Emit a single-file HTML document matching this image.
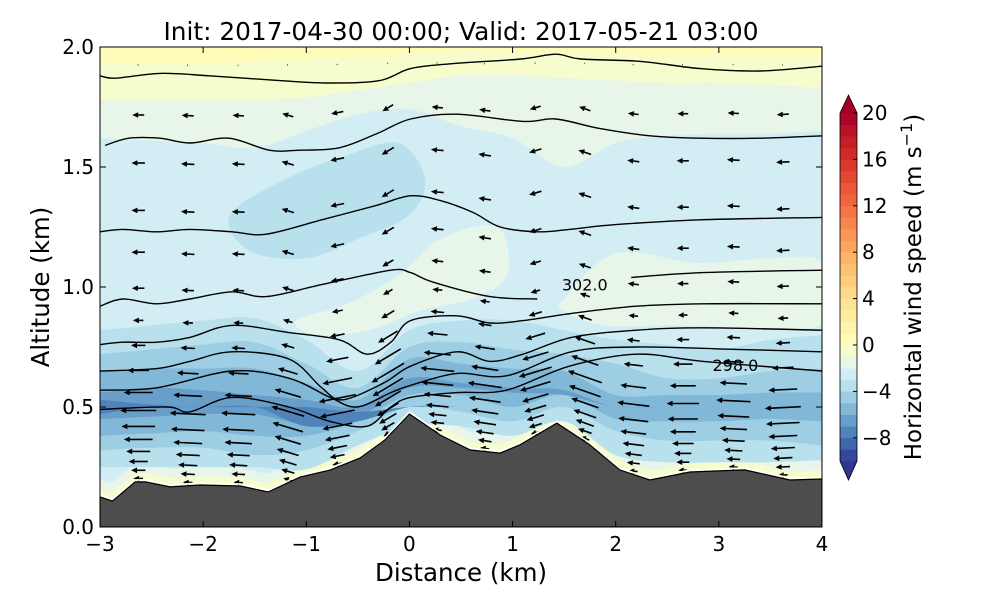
<!DOCTYPE html>
<html><head><meta charset="utf-8"><style>
body{margin:0;background:#fff;}
svg{display:block;font-family:"DejaVu Sans","Liberation Sans",sans-serif;}
</style></head><body>
<svg id="chart" width="1000" height="600" viewBox="0 0 1000 600" xmlns="http://www.w3.org/2000/svg">
<defs><clipPath id="plotclip"><rect x="100" y="47" width="722" height="480"/></clipPath></defs>
<rect width="1000" height="600" fill="#fff"/>
<text x="461" y="40" font-size="24.8" text-anchor="middle">Init: 2017-04-30 00:00; Valid: 2017-05-21 03:00</text>
<g id="plot" clip-path="url(#plotclip)"></g>
<g id="axes"></g>
<g id="cbar"></g>
</svg>
<script>
// ---------- data ----------
const terrainX = [-3.0,-2.88,-2.66,-2.56,-2.32,-2.03,-1.64,-1.37,-1.06,-0.77,-0.48,-0.24,0.0,0.30,0.59,0.88,1.07,1.43,1.75,2.04,2.33,2.72,3.25,3.69,4.0];
const terrainH = [0.125,0.108,0.188,0.188,0.167,0.175,0.171,0.146,0.208,0.237,0.287,0.362,0.471,0.383,0.321,0.308,0.342,0.433,0.342,0.238,0.196,0.229,0.238,0.196,0.2];
const bandX = [-3,-2.5,-2,-1.5,-1,-0.5,0,0.5,1,1.5,2,2.5,3,3.5,4];
const bandVals = [0.5,-0.5,-1.5,-3.5,-4.5,-5.5,-6.5,-7.5];
const bandTops = [
 [2.0,2.0,2.0,2.0,2.0,2.0,2.0,2.0,2.0,2.0,2.0,2.0,2.0,2.0,2.0],
 [1.93,1.93,1.93,1.94,1.95,1.96,1.97,1.98,1.98,1.98,1.97,1.96,1.96,1.96,1.97],
 [1.78,1.78,1.78,1.78,1.79,1.82,1.85,1.88,1.88,1.87,1.86,1.85,1.85,1.84,1.83],
 [0.82,0.84,0.86,0.87,0.78,0.65,0.82,0.86,0.86,0.82,0.78,0.76,0.74,0.78,0.80],
 [0.72,0.74,0.76,0.77,0.68,0.58,0.75,0.77,0.74,0.72,0.68,0.62,0.62,0.65,0.66],
 [0.65,0.66,0.66,0.66,0.60,0.53,0.70,0.68,0.66,0.65,0.55,0.55,0.55,0.56,0.56],
 [0.56,0.58,0.57,0.55,0.53,0.50,0.62,0.60,0.58,0.57,0.50,0.50,0.50,0.50,0.50],
 [0.53,0.51,0.50,0.50,0.50,0.48,0.50,0.50,0.50,0.50,0.50,0.50,0.50,0.50,0.50]];
const bandBots = [
 [1.93,1.93,1.93,1.94,1.95,1.96,1.97,1.98,1.98,1.98,1.97,1.96,1.96,1.96,1.97],
 [1.78,1.78,1.78,1.78,1.79,1.82,1.85,1.88,1.88,1.87,1.86,1.85,1.85,1.84,1.83],
 [1.62,1.61,1.60,1.58,1.65,1.72,1.74,1.67,1.62,1.50,1.60,1.63,1.64,1.64,1.65],
 [0.25,0.25,0.25,0.25,0.24,0.34,0.42,0.42,0.38,0.44,0.30,0.27,0.27,0.27,0.28],
 [0.32,0.33,0.33,0.30,0.32,0.40,0.50,0.48,0.44,0.50,0.40,0.36,0.36,0.36,0.34],
 [0.38,0.39,0.40,0.38,0.38,0.44,0.55,0.55,0.50,0.55,0.45,0.44,0.44,0.45,0.44],
 [0.45,0.46,0.47,0.47,0.43,0.46,0.58,0.58,0.56,0.55,0.50,0.50,0.50,0.50,0.50],
 [0.47,0.50,0.50,0.50,0.42,0.44,0.50,0.50,0.50,0.50,0.50,0.50,0.50,0.50,0.50]];
const blobVals = [-3.5,-1.5,-1.5];
const blobXs = [[-1.74,-1.2,-0.6,-0.1,0.15,0.0,-0.5,-1.0,-1.55],[-1.1,-0.6,-0.1,0.3,0.85,0.95,0.6,0.1,-0.4,-0.9],[1.5,2.0,2.8,3.5,4.0,4.0,3.4,2.6,1.9,1.5]];
const blobHs = [[1.3,1.45,1.55,1.6,1.45,1.3,1.2,1.12,1.15],[0.86,0.93,1.05,1.2,1.25,1.05,0.95,0.9,0.82,0.8],[0.95,1.14,1.1,1.12,1.1,0.85,0.83,0.84,0.84,0.9]];
const isoX = [
 [-3,-2.85,-2.42,-1.94,-1.26,-0.77,-0.29,0.01,0.40,1.08,1.42,1.66,2.24,2.82,3.40,4.0],
 [-2.95,-2.72,-2.42,-2.13,-1.75,-1.36,-1.07,-0.68,-0.31,0.01,0.46,1.10,1.42,1.85,2.33,2.82,3.40,4.0],
 [-3,-2.78,-2.45,-2.13,-1.72,-1.39,-0.85,-0.32,0.01,0.30,0.62,0.88,1.24,1.55,2.0,2.82,4.0],
 [-3,-2.78,-2.45,-2.13,-1.72,-1.39,-0.85,-0.18,0.01,0.23,0.78,1.24],
 [2.15,2.85,4.0],
 [-3,-2.78,-2.45,-2.13,-1.72,-1.17,-0.68,-0.41,-0.18,0.01,0.46,0.78,1.10,1.57,2.2,2.85,4.0],
 [-3,-2.45,-2.13,-1.72,-1.17,-0.85,-0.65,-0.25,0.01,0.46,0.78,1.10,1.57,2.2,2.85,4.0],
 [-3,-2.45,-1.72,-1.17,-0.77,-0.51,-0.18,0.01,0.46,0.94,1.57,2.2,3.17,4.0],
 [-3,-2.35,-2.13,-1.72,-1.17,-0.77,-0.41,-0.18,0.01,0.46,0.94,1.55,2.2,2.85,4.0]];
const isoH = [
 [1.88,1.87,1.89,1.88,1.86,1.85,1.86,1.91,1.93,1.95,1.97,1.95,1.94,1.91,1.90,1.92],
 [1.59,1.62,1.62,1.60,1.62,1.57,1.57,1.58,1.64,1.70,1.72,1.69,1.70,1.66,1.63,1.62,1.62,1.63],
 [1.23,1.24,1.23,1.24,1.23,1.22,1.28,1.34,1.38,1.36,1.31,1.25,1.23,1.24,1.26,1.28,1.29],
 [0.92,0.95,0.93,0.95,0.98,0.96,1.01,1.07,1.06,1.02,0.96,0.95],
 [1.04,1.06,1.07],
 [0.76,0.77,0.77,0.79,0.84,0.81,0.78,0.72,0.77,0.86,0.88,0.85,0.86,0.89,0.92,0.93,0.93],
 [0.65,0.66,0.69,0.73,0.70,0.58,0.53,0.60,0.67,0.73,0.69,0.72,0.79,0.82,0.83,0.82],
 [0.57,0.58,0.65,0.62,0.54,0.50,0.56,0.59,0.64,0.63,0.73,0.75,0.74,0.73],
 [0.49,0.50,0.48,0.54,0.50,0.44,0.42,0.50,0.54,0.56,0.57,0.67,0.72,0.69,0.65]];
const isoLabels = ["302.0","298.0"];
const isoLabelX = [1.70,3.16];
const isoLabelH = [1.01,0.675];
// wind vectors
const colX = [-2.63,-2.15,-1.66,-1.18,-0.70,-0.21,0.27,0.73,1.22,1.70,2.17,2.65,3.14,3.62];
const colTilt = [0.0,0.05,0.05,0.3,-0.2,-0.6,0.1,0.15,-0.3,0.35,0.12,0.0,0.05,-0.05];
const colScale = [1.0,1.0,0.95,0.95,1.05,1.05,0.95,0.95,0.95,1.0,0.9,0.9,0.95,1.0];
const levRef = [0.204,0.238,0.275,0.317,0.367,0.421,0.487,0.562,0.654,0.758,0.862,0.996,1.146,1.32,1.517,1.717,1.925];
const levU = [-2,-3,-4,-5,-6,-7,-7.5,-6,-4.5,-3,-2.2,-2.6,-2.8,-2.8,-2.8,-2.5,-0.3];
const cbTicks = [20,16,12,8,4,0,-4,-8];

// ---------- helpers ----------
const NS="http://www.w3.org/2000/svg";
const X0=100,X1=822,Y0=527,Y1=47;
const sx=x=>X0+(x+3)/7*(X1-X0);
const sy=h=>Y0-h/2*(Y0-Y1);
function mk(tag,parent){const e=document.createElementNS(NS,tag);parent.appendChild(e);return e;}
function hex(c){return [parseInt(c.slice(1,3),16),parseInt(c.slice(3,5),16),parseInt(c.slice(5,7),16)];}
const stops=["#313695","#4575b4","#74add1","#abd9e9","#e0f3f8","#ffffbf","#fee090","#fdae61","#f46d43","#d73027","#a50026"].map(hex);
function cmap(v){let t=v<0?0.5+v/20:0.5+v/40;t=Math.max(0,Math.min(1,t));const p=t*10,i=Math.min(9,Math.floor(p)),f=p-i;
 const c=stops[i].map((a,k)=>Math.round(a+(stops[i+1][k]-a)*f));return `rgb(${c[0]},${c[1]},${c[2]})`;}
function smooth(pts,closed){
 const n=pts.length;let d=`M${pts[0][0].toFixed(1)},${pts[0][1].toFixed(1)}`;
 const g=i=>closed?pts[(i+n)%n]:pts[Math.max(0,Math.min(n-1,i))];
 const m=closed?n:n-1;
 for(let i=0;i<m;i++){const p0=g(i-1),p1=g(i),p2=g(i+1),p3=g(i+2);
  d+=`C${(p1[0]+(p2[0]-p0[0])/6).toFixed(1)},${(p1[1]+(p2[1]-p0[1])/6).toFixed(1)} ${(p2[0]-(p3[0]-p1[0])/6).toFixed(1)},${(p2[1]-(p3[1]-p1[1])/6).toFixed(1)} ${p2[0].toFixed(1)},${p2[1].toFixed(1)}`;}
 return d+(closed?"Z":"");}
function terr(x){for(let i=0;i<terrainX.length-1;i++){if(x<=terrainX[i+1]){const f=(x-terrainX[i])/(terrainX[i+1]-terrainX[i]);return terrainH[i]+f*(terrainH[i+1]-terrainH[i]);}}return terrainH[terrainH.length-1];}

const plot=document.getElementById('plot');
const base=mk('rect',plot);base.setAttribute('x',100);base.setAttribute('y',47);base.setAttribute('width',722);base.setAttribute('height',480);base.setAttribute('fill',cmap(-2.5));


{const top=[];for(let x=-3;x<=4.001;x+=0.1){top.push([sx(x),sy(terr(x)+0.075)]);}
 const p=mk('path',plot);
 p.setAttribute('d',smooth(top,false)+`L${sx(4)},${sy(0)}L${sx(-3)},${sy(0)}Z`);p.setAttribute('fill',cmap(-1.5));
 
 
 const q=mk('path',plot);const t2=[];for(let x=-3;x<=4.001;x+=0.1){t2.push([sx(x),sy(terr(x)+0.035)]);}
 q.setAttribute('d',smooth(t2,false)+`L${sx(4)},${sy(0)}L${sx(-3)},${sy(0)}Z`);q.setAttribute('fill',cmap(-0.5));
 
 }
bandVals.forEach((v,bi)=>{
 const top=bandX.map((x,i)=>[sx(x),sy(bandTops[bi][i])]);
 const bot=bandX.map((x,i)=>[sx(x),sy(Math.min(bandBots[bi][i],bandTops[bi][i]))]).reverse();
 const p=mk('path',plot);
 p.setAttribute('d',smooth(top,false)+'L'+smooth(bot,false).slice(1)+'Z');
 p.setAttribute('fill',cmap(v));
 
 
 if(bi===2){blobVals.forEach((bv,k)=>{const b=mk('path',plot);
  b.setAttribute('d',smooth(blobXs[k].map((x,i)=>[sx(x),sy(blobHs[k][i])]),true));b.setAttribute('fill',cmap(bv));
  
  });}
});
isoX.forEach((xs,k)=>{const p=mk('path',plot);
 p.setAttribute('d',smooth(xs.map((x,i)=>[sx(x),sy(isoH[k][i])]),false));
 p.setAttribute('fill','none');p.setAttribute('stroke','#000');p.setAttribute('stroke-width','1.4');
 
 });
isoLabels.forEach((t,k)=>{const e=mk('text',plot);e.textContent=t;e.setAttribute('x',sx(isoLabelX[k]));e.setAttribute('y',sy(isoLabelH[k])+6);
 e.setAttribute('font-size','16');e.setAttribute('text-anchor','middle');
 
 });
colX.forEach((cx,ci)=>{const zs=terr(cx);
 levRef.forEach((zr,li)=>{const z=zs+(zr-0.19)*(2-zs)/1.81;if(z>1.99)return;
  const u=levU[li]*colScale[ci];const len=Math.max(Math.abs(u)*4.8,1.5);
  const x0=sx(cx),y0=sy(z);
  const ang=Math.atan2(-colTilt[ci],-1);
  const ca=Math.cos(ang),sa=Math.sin(ang);
  const tx=x0-ca*len/2,ty=y0-sa*len/2,hx=x0+ca*len/2,hy=y0+sa*len/2;
  const g=mk('g',plot);
  
  
  const hl=Math.min(6,len*0.6);
  const bx=hx-ca*hl,by=hy-sa*hl;
  if(len>4){const ln=mk('line',g);ln.setAttribute('x1',tx.toFixed(1));ln.setAttribute('y1',ty.toFixed(1));ln.setAttribute('x2',bx.toFixed(1));ln.setAttribute('y2',by.toFixed(1));
   ln.setAttribute('stroke','#000');ln.setAttribute('stroke-width','1.6');}
  const hw=len>4?2.8:1;
  const tri=mk('polygon',g);tri.setAttribute('points',`${hx.toFixed(1)},${hy.toFixed(1)} ${(bx-sa*hw).toFixed(1)},${(by+ca*hw).toFixed(1)} ${(bx+sa*hw).toFixed(1)},${(by-ca*hw).toFixed(1)}`);
  tri.setAttribute('fill','#000');
 });});
{const pts=terrainX.map((x,i)=>[sx(x),sy(terrainH[i])]);
 const p=mk('path',plot);p.setAttribute('d','M'+pts.map(q=>q[0].toFixed(1)+','+q[1].toFixed(1)).join('L')+`L${X1},${Y0}L${X0},${Y0}Z`);
 p.setAttribute('fill','#4d4d4d');p.setAttribute('stroke','#000');p.setAttribute('stroke-width','1.2');
 
 
 const w=mk('path',plot);w.setAttribute('d','M'+pts.map(q=>q[0].toFixed(1)+','+(q[1]-2).toFixed(1)).join('L'));w.setAttribute('fill','none');w.setAttribute('stroke','#fff');w.setAttribute('stroke-width','1.5');
 
 }
const axes=document.getElementById('axes');
{const f=mk('rect',axes);f.setAttribute('x',100);f.setAttribute('y',47);f.setAttribute('width',722);f.setAttribute('height',480);f.setAttribute('fill','none');f.setAttribute('stroke','#000');f.setAttribute('stroke-width','1');
 
 }
const xTicks=[-3,-2,-1,0,1,2,3,4];
xTicks.forEach(t=>{const x=sx(t);
 [[Y0,Y0-6],[Y1,Y1+6]].forEach(s=>{const l=mk('line',axes);l.setAttribute('x1',x);l.setAttribute('x2',x);l.setAttribute('y1',s[0]);l.setAttribute('y2',s[1]);l.setAttribute('stroke','#000');});
 const e=mk('text',axes);e.textContent=(t<0?'\u2212'+(-t):String(t));e.setAttribute('x',x);e.setAttribute('y',551);e.setAttribute('font-size','20');e.setAttribute('text-anchor','middle');
 
 });
const yTicks=[0,0.5,1,1.5,2];
yTicks.forEach(t=>{const y=sy(t);
 [[X0,X0+6],[X1,X1-6]].forEach(s=>{const l=mk('line',axes);l.setAttribute('y1',y);l.setAttribute('y2',y);l.setAttribute('x1',s[0]);l.setAttribute('x2',s[1]);l.setAttribute('stroke','#000');});
 const e=mk('text',axes);e.textContent=t.toFixed(1);e.setAttribute('x',94);e.setAttribute('y',y+7);e.setAttribute('font-size','20');e.setAttribute('text-anchor','end');
 
 });
{const e=mk('text',axes);e.textContent='Distance (km)';e.setAttribute('x',461);e.setAttribute('y',581);e.setAttribute('font-size','24.5');e.setAttribute('text-anchor','middle');
 
 
 const y=mk('text',axes);y.textContent='Altitude (km)';y.setAttribute('transform','translate(49,287) rotate(-90)');y.setAttribute('font-size','24.5');y.setAttribute('text-anchor','middle');
 
 }
const cb=document.getElementById('cbar');
const CX0=840,CX1=857,CT=113,CB=461;const cy=v=>CB-(v+10)/30*(CB-CT);
for(let v=-10;v<20;v++){const r=mk('rect',cb);r.setAttribute('x',CX0);r.setAttribute('width',CX1-CX0);r.setAttribute('y',cy(v+1)-0.3);r.setAttribute('height',cy(v)-cy(v+1)+0.6);r.setAttribute('fill',cmap(v+0.5));
 
 }
{const t=mk('polygon',cb);t.setAttribute('points',`${CX0},${CT} ${(CX0+CX1)/2},95 ${CX1},${CT}`);t.setAttribute('fill',cmap(20));
 
 
 const b=mk('polygon',cb);b.setAttribute('points',`${CX0},${CB} ${(CX0+CX1)/2},480 ${CX1},${CB}`);b.setAttribute('fill',cmap(-10));
 
 
 const o=mk('polygon',cb);o.setAttribute('points',`${CX0},${CT} ${(CX0+CX1)/2},95 ${CX1},${CT} ${CX1},${CB} ${(CX0+CX1)/2},480 ${CX0},${CB}`);o.setAttribute('fill','none');o.setAttribute('stroke','#000');o.setAttribute('stroke-width','0.8');
 
 }
cbTicks.forEach(v=>{const y=cy(v);const l=mk('line',cb);l.setAttribute('x1',CX1-4);l.setAttribute('x2',CX1);l.setAttribute('y1',y);l.setAttribute('y2',y);l.setAttribute('stroke','#000');
 const e=mk('text',cb);e.textContent=v<0?'\u2212'+(-v):String(v);e.setAttribute('x',862);e.setAttribute('y',y+7);e.setAttribute('font-size','20');
 
 });
{const e=mk('text',cb);e.setAttribute('transform','translate(921,287) rotate(-90)');e.setAttribute('font-size','23');e.setAttribute('text-anchor','middle');
 e.innerHTML='Horizontal wind speed (m s<tspan dy="-9" font-size="16">\u22121</tspan><tspan dy="9">)</tspan>';
 
 }
</script>
</body></html>
